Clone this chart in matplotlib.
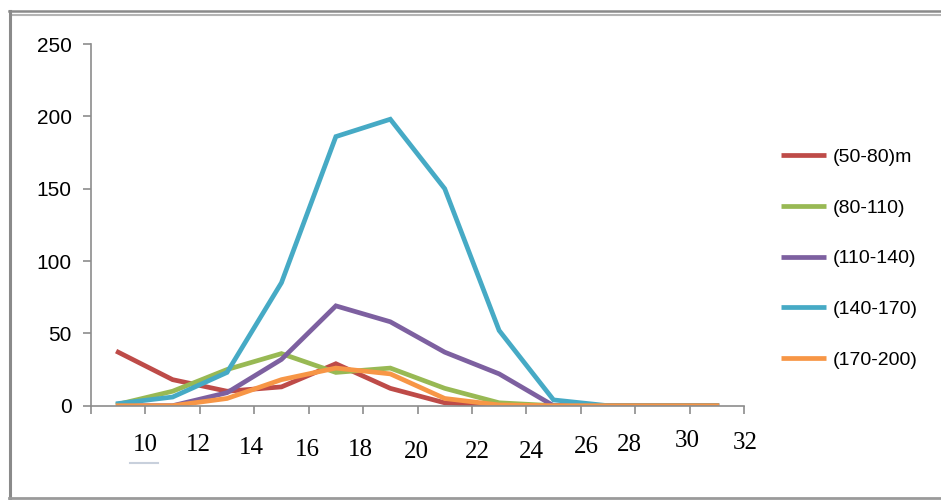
import matplotlib.pyplot as plt
from matplotlib.lines import Line2D

# diameter class midpoints (cm) and tree counts per height class
diam = [9, 11, 13, 15, 17, 19, 21, 23, 25, 27, 29, 31]
h_50_80 = [37, 18, 10, 13, 29, 12, 2, 0, 0, 0, 0, 0]
h_80_110 = [1, 10, 25, 36, 23, 26, 12, 2, 0, 0, 0, 0]
h_110_140 = [0, 0, 9, 32, 69, 58, 37, 22, 0, 0, 0, 0]
h_140_170 = [1.5, 6, 23, 85, 186, 198, 150, 52, 4, 0, 0, 0]
h_170_200 = [0, 0, 5, 18, 26, 22, 5, 0.5, 0, 0, 0, 0]

series = [
    ("(50-80)m", h_50_80, "#BE4B48"),
    ("(80-110)", h_80_110, "#98B954"),
    ("(110-140)", h_110_140, "#7D60A0"),
    ("(140-170)", h_140_170, "#46AAC5"),
    ("(170-200)", h_170_200, "#F79646"),
]
xtick_vals = [8, 10, 12, 14, 16, 18, 20, 22, 24, 26, 28, 30, 32]
# small hand nudges of the text boxes below the axis (x in data units, y in axes fraction)
lab_dx = [0, -0.05, -0.1, -0.05, -0.1, -0.05, 0.2, 0.2, 0.2, -0.2, -0.1, 0.05]
lab_dy = [-0.108, -0.108, -0.116, -0.122, -0.122, -0.128, -0.128, -0.128, -0.114, -0.108, -0.098, -0.103]

fig = plt.figure(figsize=(9.41, 5.0), dpi=100)
ax = fig.add_axes([91 / 941, 1 - 405.7 / 500, (744 - 91) / 941, (405.7 - 44) / 500])

for name, vals, col in series:
    ax.plot(diam, vals, color=col, lw=3.4, label=name, solid_joinstyle="miter")

ax.set_xlim(8, 32)
ax.set_ylim(0, 250)
ax.set_yticks([0, 50, 100, 150, 200, 250])
ax.set_xticks(xtick_vals)
ax.set_xticklabels([])
for s in ["top", "right"]:
    ax.spines[s].set_visible(False)
for s in ["left", "bottom"]:
    ax.spines[s].set_color("#8C8C8C")
    ax.spines[s].set_linewidth(1.2)
ax.tick_params(axis="both", color="#8C8C8C", width=1.2, length=6, direction="out")
ax.tick_params(axis="y", pad=8)
for t in ax.get_yticklabels():
    t.set_family("Liberation Sans")
    t.set_fontsize(15)

trans = ax.get_xaxis_transform()
for i, v in enumerate(xtick_vals[1:]):
    ax.text(v + lab_dx[i], lab_dy[i], str(v), transform=trans, ha="center", va="center",
            family="Liberation Serif", fontsize=18, color="black")
# faint underline under the first label
ax.add_line(Line2D([9.45, 10.45], [-0.158, -0.158], transform=trans, color="#C8D0DC",
                   lw=1.5, clip_on=False))

leg = fig.legend(loc="upper left", bbox_to_anchor=(763 / 941, 1 - 131 / 500), frameon=False,
                 prop={"family": "Liberation Sans", "size": 14}, handlelength=2.35,
                 handletextpad=0.35, labelspacing=1.7)
for ln in leg.get_lines():
    ln.set_linewidth(3.4)
    ln.set_solid_capstyle("butt")

# outer chart frame
fig.add_artist(Line2D([9 / 941, 1], [1 - 11 / 500, 1 - 11 / 500], color="#8A8A8A", lw=1.8))
fig.add_artist(Line2D([12 / 941, 1], [1 - 14.5 / 500, 1 - 14.5 / 500], color="#B4B4B4", lw=1.5))
fig.add_artist(Line2D([10 / 941, 10 / 941], [1 - 11 / 500, 1 - 498 / 500], color="#8A8A8A", lw=2.2))
fig.add_artist(Line2D([9 / 941, 1], [1 - 498 / 500, 1 - 498 / 500], color="#9A9A9A", lw=2.0))

fig.savefig("out.png", dpi=100)
